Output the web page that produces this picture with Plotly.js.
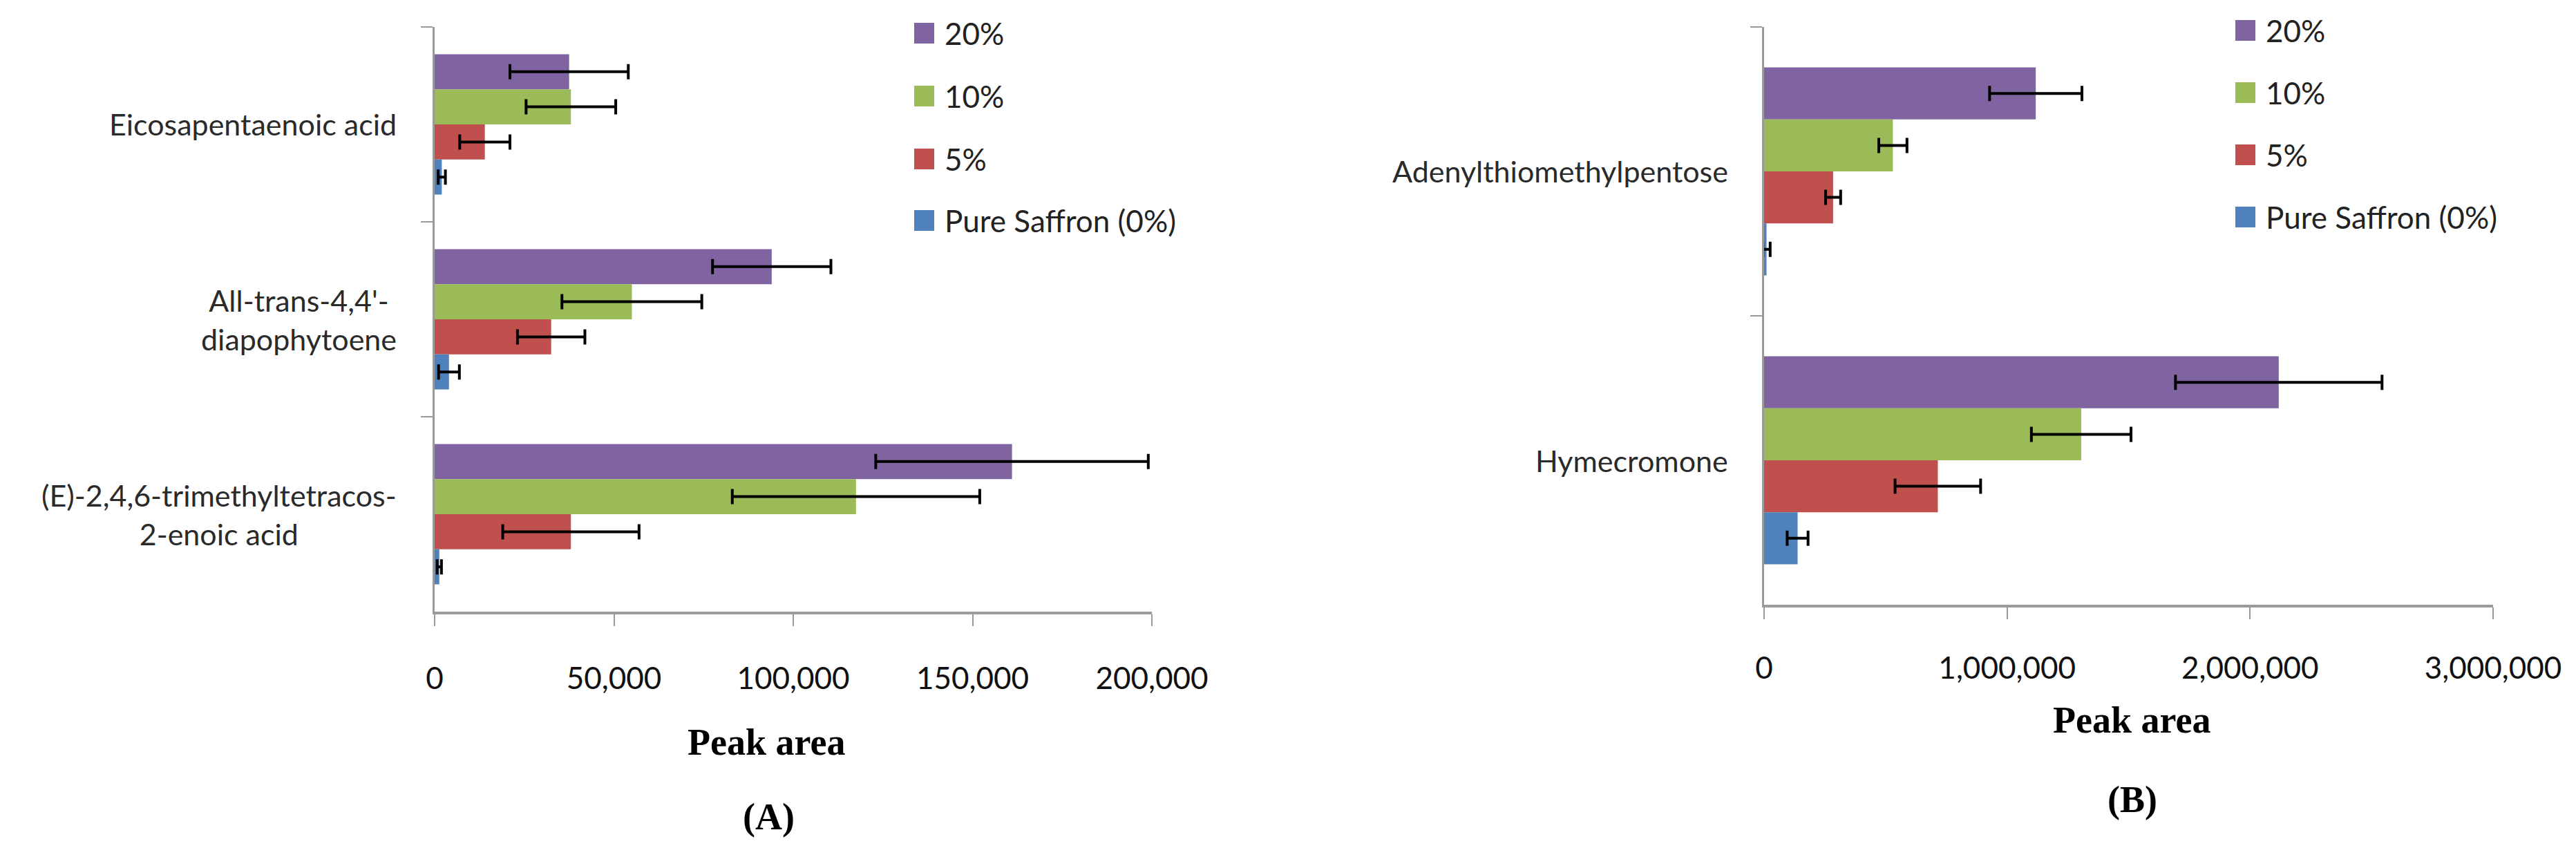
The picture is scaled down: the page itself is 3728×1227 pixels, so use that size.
<!DOCTYPE html>
<html>
<head>
<meta charset="utf-8">
<script src="https://cdn.plot.ly/plotly-3.0.1.min.js"></script>
<style>html,body{margin:0;padding:0;background:#fff;}#chart{width:3728px;height:1227px;}</style>
</head>
<body>
<div id="chart"></div>
<script>
// ---------- data ----------
const seriesNames = ['20%', '10%', '5%', 'Pure Saffron (0%)'];
const seriesColors = ['#8064A2', '#9BBB59', '#C0504D', '#4F81BD'];

// Panel A
const categoriesA = ["Eicosapentaenoic acid", "All-trans-4,4'-diapophytoene", "(E)-2,4,6-trimethyltetracos-2-enoic acid"];
const labelsA = ["Eicosapentaenoic acid", "All-trans-4,4'-<br>diapophytoene", "(E)-2,4,6-trimethyltetracos-<br>2-enoic acid"];
const a20 = [37500, 94000, 161000];
const a10 = [38000, 55000, 117500];
const a5 = [14000, 32500, 38000];
const a0 = [2000, 4000, 1300];
const a20err = [16500, 16500, 38000];
const a10err = [12500, 19500, 34500];
const a5err = [7000, 9400, 19000];
const a0err = [1000, 2900, 600];
const ticksA = [0, 50000, 100000, 150000, 200000];

// Panel B
const categoriesB = ["Adenylthiomethylpentose", "Hymecromone"];
const labelsB = ["Adenylthiomethylpentose", "Hymecromone"];
const b20 = [1118000, 2118000];
const b10 = [530000, 1305000];
const b5 = [284000, 715000];
const b0 = [10000, 138000];
const b20err = [190000, 425000];
const b10err = [58000, 205000];
const b5err = [31000, 176000];
const b0err = [15000, 43000];
const ticksB = [0, 1000000, 2000000, 3000000];

const axisTitle = 'Peak area';
const panelLabels = ['(A)', '(B)'];

// ---------- build ----------
const W = 3728, H = 1227;
const px = v => v / W;
const py = v => 1 - v / H;

const valsA = [a20, a10, a5, a0], errsA = [a20err, a10err, a5err, a0err];
const valsB = [b20, b10, b5, b0], errsB = [b20err, b10err, b5err, b0err];

const errStyle = {color: '#000', thickness: 4, width: 11};
const traces = [];
seriesNames.forEach((name, i) => {
  traces.push({
    type: 'bar', orientation: 'h', name: name,
    y: categoriesA, x: valsA[i],
    marker: {color: seriesColors[i]},
    error_x: Object.assign({type: 'data', array: errsA[i], visible: true}, errStyle),
    xaxis: 'x', yaxis: 'y', showlegend: false
  });
});
seriesNames.forEach((name, i) => {
  traces.push({
    type: 'bar', orientation: 'h', name: name,
    y: categoriesB, x: valsB[i],
    marker: {color: seriesColors[i]},
    error_x: Object.assign({type: 'data', array: errsB[i], visible: true}, errStyle),
    xaxis: 'x2', yaxis: 'y2', showlegend: false
  });
});

const tickFont = {family: 'Lato, "Open Sans", sans-serif', size: 44, color: '#111'};
const labelFont = {family: 'Lato, "Open Sans", sans-serif', size: 43, color: '#2a2a2a'};
const titleFont = {family: '"Liberation Serif", "Times New Roman", serif', size: 54, color: '#000', weight: 'bold'};
const axisGrey = '#9a9a9a';

function xAxis(domain, range, ticks, standoff, anchor) {
  return {
    domain: domain, range: range, anchor: anchor,
    tickmode: 'array', tickvals: ticks, ticktext: ticks.map(v => v.toLocaleString('en-US')),
    showline: true, linecolor: axisGrey, linewidth: 4,
    ticks: 'outside', ticklen: 17, tickwidth: 2, tickcolor: axisGrey,
    showgrid: false, zeroline: false,
    tickfont: tickFont, ticklabelstandoff: standoff, automargin: false, fixedrange: true
  };
}
function yAxis(domain, anchor) {
  return {
    domain: domain, anchor: anchor, type: 'category', autorange: 'reversed',
    showline: true, linecolor: axisGrey, linewidth: 3,
    ticks: 'outside', tickson: 'boundaries', ticklen: 17, tickwidth: 2, tickcolor: axisGrey,
    showticklabels: false, showgrid: false, zeroline: false, automargin: false, fixedrange: true
  };
}

const annotations = [];
categoriesA.forEach((c, i) => annotations.push({
  xref: 'paper', yref: 'y', x: px(576), y: c, xanchor: 'right', yanchor: 'middle',
  text: labelsA[i], align: 'center', showarrow: false, font: labelFont
}));
categoriesB.forEach((c, i) => annotations.push({
  xref: 'paper', yref: 'y2', x: px(2503), y: c, xanchor: 'right', yanchor: 'middle',
  text: labelsB[i], align: 'center', showarrow: false, font: labelFont
}));
// axis titles and panel labels
annotations.push({xref: 'paper', yref: 'paper', x: px(1109), y: py(1074), xanchor: 'center', yanchor: 'middle', text: '<b>' + axisTitle + '</b>', showarrow: false, font: titleFont});
annotations.push({xref: 'paper', yref: 'paper', x: px(3085), y: py(1042), xanchor: 'center', yanchor: 'middle', text: '<b>' + axisTitle + '</b>', showarrow: false, font: titleFont});
annotations.push({xref: 'paper', yref: 'paper', x: px(1112), y: py(1182), xanchor: 'center', yanchor: 'middle', text: '<b>' + panelLabels[0] + '</b>', showarrow: false, font: titleFont});
annotations.push({xref: 'paper', yref: 'paper', x: px(3086), y: py(1157), xanchor: 'center', yanchor: 'middle', text: '<b>' + panelLabels[1] + '</b>', showarrow: false, font: titleFont});

// legends (one per panel)
const shapes = [];
const legendA = {sqX: 1323, txtX: 1365, ys: [48, 139, 230, 319]};
const legendB = {sqX: 3235, txtX: 3277, ys: [44, 134, 224, 314]};
[legendA, legendB].forEach(lg => {
  seriesNames.forEach((name, i) => {
    const cy = lg.ys[i];
    shapes.push({type: 'rect', xref: 'paper', yref: 'paper',
      x0: px(lg.sqX), x1: px(lg.sqX + 29), y0: py(cy + 15), y1: py(cy - 15),
      fillcolor: seriesColors[i], line: {width: 0}});
    annotations.push({xref: 'paper', yref: 'paper', x: px(lg.txtX), y: py(cy),
      xanchor: 'left', yanchor: 'middle', text: name, showarrow: false,
      font: {family: 'Lato, "Open Sans", sans-serif', size: 44, color: '#222'}});
  });
});

const layout = {
  width: W, height: H,
  margin: {l: 0, r: 0, t: 0, b: 0},
  paper_bgcolor: '#fff', plot_bgcolor: '#fff',
  barmode: 'group', bargap: 0.28, bargroupgap: 0,
  showlegend: false,
  xaxis: xAxis([px(629), px(1667)], [0, 200000], ticksA, 38, 'y'),
  yaxis: yAxis([py(885), py(39)], 'x'),
  xaxis2: xAxis([px(2553), px(3608)], [0, 3000000], ticksB, 33, 'y2'),
  yaxis2: yAxis([py(875), py(39)], 'x2'),
  annotations: annotations,
  shapes: shapes
};

Plotly.newPlot('chart', traces, layout, {staticPlot: true, displayModeBar: false});
</script>
</body>
</html>
